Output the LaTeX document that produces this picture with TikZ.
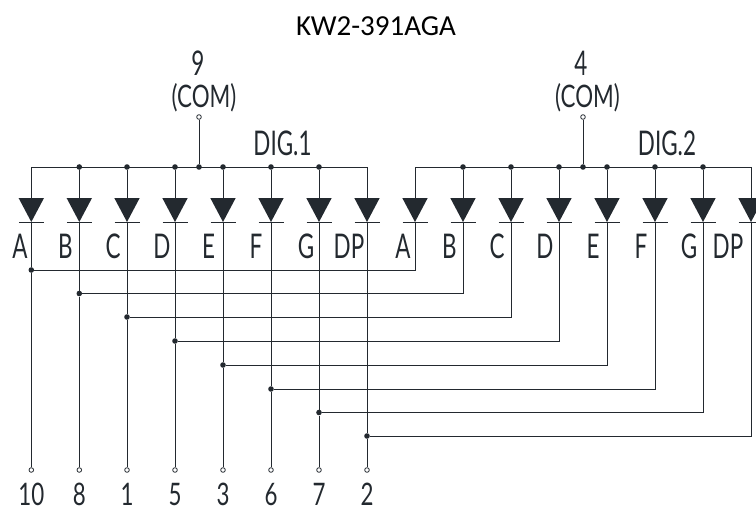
\documentclass[tikz,border=0pt]{standalone}
\usepackage{fontspec}
\setmainfont{Carlito}
\newfontfamily\labfont[FakeStretch=0.66]{Lato}
\newfontfamily\digfont[FakeStretch=0.72]{Lato}
\definecolor{ink}{HTML}{23292F}
\tikzset{
  x=1pt,y=-1pt,
  wire/.style={draw=ink,line width=0.95pt},
  junction/.style={circle,fill=ink,inner sep=0pt,minimum size=5.6pt},
  terminal/.style={circle,draw=ink,fill=white,line width=0.8pt,inner sep=0pt,minimum size=4.6pt},
  pinlabel/.style={font=\labfont\fontsize{34}{34}\selectfont,text=ink,inner sep=0pt},
  comlabel/.style={font=\digfont\fontsize{31}{31}\selectfont,text=ink,inner sep=0pt},
  pinnumber/.style={font=\digfont\fontsize{31}{31}\selectfont,text=ink,inner sep=0pt},
  title/.style={font=\fontsize{29}{30}\selectfont,text=black,inner sep=0pt}
}
\begin{document}
\begin{tikzpicture}
\useasboundingbox (0,0) rectangle (756,511);
\node[title] (title) at (376,26) {KW2-391AGA};
% columns
\foreach \n/\x in {1/31.3,2/79.3,3/127,4/175,5/223,6/271,7/319,8/367,9/415,10/463,11/511,12/559,13/607,14/655,15/703,16/751}{
  \coordinate (b\n) at (\x,167);
  \coordinate (top\n) at (\x,198);
  \coordinate (k\n) at (\x,222);
  \coordinate (kl\n) at (\x-12.5,222);
  \coordinate (kr\n) at (\x+12.5,222);
  \fill[ink] (\x-12.7,198) -- (\x+12.7,198) -- (\x,222) -- cycle;
  \draw[wire,line width=0.7pt] (kl\n) -- (kr\n);
}
% common pins
\node[terminal] (com1) at (199,117) {};
\node[terminal] (com2) at (583,117) {};
\node[junction] (jc1) at (199,167) {};
\node[junction] (jc2) at (583,167) {};
\draw[wire] (com1) -- (jc1);
\draw[wire] (com2) -- (jc2);
\draw[wire] (top1) -- (b1) -- (b8) -- (top8);
\draw[wire] (top9) -- (b9) -- (b16) -- (top16);
\foreach \n in {2,3,4,5,6,7,10,11,12,13,14,15}{
  \node[junction] (jb\n) at (b\n) {};
  \draw[wire] (jb\n) -- (top\n);
}
% pins and cross wires
\foreach \n/\m/\y/\p in {1/9/270/10,2/10/293.5/8,3/11/317/1,4/12/341/5,5/13/365/3,6/14/389/6,7/15/412.5/7,8/16/436/2}{
  \node[terminal] (t\n) at (k\n |- 0,470) {};
  \node[junction] (j\n) at (k\n |- 0,\y) {};
  \coordinate (c\m) at (k\m |- 0,\y);
  \draw[wire] (k\n) -- (j\n) -- (t\n);
  \draw[wire] (j\n) -- (c\m) -- (k\m);
  \node[pinnumber] (pin\n) at (k\n |- 0,494.5) {\p};
}
% text
\node[pinlabel] (n9) at (198,63.5) {9};
\node[comlabel] (c9) at (204,97.5) {(COM)};
\node[pinlabel] (n4) at (581,63.5) {4};
\node[comlabel] (c4) at (587.5,97.5) {(COM)};
\node[pinlabel] (d1) at (282.5,143) {DIG.1};
\node[pinlabel] (d2) at (667,143) {DIG.2};
\foreach \l/\x [count=\i] in {A/20,B/65.5,C/113,D/162,E/208.5,F/256,G/306,DP/349,A/403,B/449.5,C/497,D/545,E/593,F/641,G/689,DP/728}{
  \node[pinlabel] (seg\i) at (\x,246.5) {\l};
}
\end{tikzpicture}
\end{document}
